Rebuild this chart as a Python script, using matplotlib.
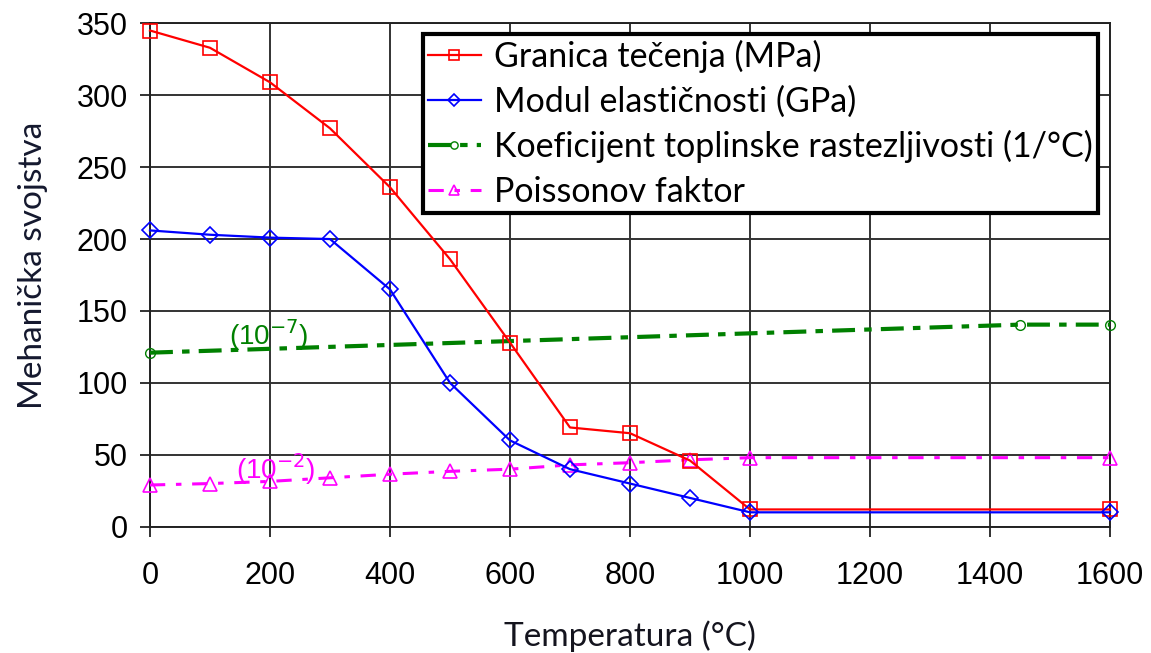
import numpy as np
import matplotlib
matplotlib.use('Agg')
import matplotlib.pyplot as plt

# temperature in degC
temp = [0, 100, 200, 300, 400, 500, 600, 700, 800, 900, 1000, 1600]
granica = [345, 333, 309, 277, 236, 186, 128, 69, 65, 46, 12, 12]        # MPa
modul = [206, 203, 201, 200, 165, 100, 60, 40, 30, 20, 10, 10]            # GPa
temp_koef = [0, 1450, 1600]
koef = [121, 140.5, 140.5]                                                # x 1e-7
poisson = [29, 30, 31.5, 34, 36.5, 38.5, 40, 43, 44.5, 46.5, 48, 48]      # x 1e-2

xticks = np.arange(0, 1601, 200)
yticks = np.arange(0, 351, 50)

plt.rcParams['font.family'] = ['Liberation Sans', 'DejaVu Sans']
label_font = ['Lato', 'DejaVu Sans']

fig = plt.figure(figsize=(11.51, 6.53), dpi=100)
ax = fig.add_axes([0.1303, 0.1934, 0.8341, 0.7709])

ax.plot(temp, granica, color='red', lw=1.6, marker='s', ms=10, mfc='none',
        mew=1.2, label='Granica tečenja (MPa)', clip_on=False, zorder=5)
ax.plot(temp, modul, color='blue', lw=1.6, marker='D', ms=8.5, mfc='none',
        mew=1.2, label='Modul elastičnosti (GPa)', clip_on=False, zorder=5)
ax.plot(temp_koef, koef, color='green', lw=3.0, marker='o', ms=7, mfc='none',
        mew=1.0, ls=(0, (5.5, 2.2, 1.8, 2.2)),
        label='Koeficijent toplinske rastezljivosti (1/°C)', clip_on=False, zorder=4)
ax.plot(temp, poisson, color='magenta', lw=2.2, marker='^', ms=10, mfc='none',
        mew=1.2, ls=(0, (5.0, 3.5, 1.8, 3.5)),
        label='Poissonov faktor', clip_on=False, zorder=4)

ax.text(198, 133, '(10$^{-7}$)', color='green', fontsize=20,
        ha='center', va='center', zorder=6)
ax.text(210, 40, '(10$^{-2}$)', color='magenta', fontsize=20,
        ha='center', va='center', zorder=6)

ax.set_xlim(0, 1600)
ax.set_ylim(0, 350)
ax.set_xticks(xticks)
ax.set_yticks(yticks)
ax.tick_params(labelsize=22, length=7, width=1.3, color='#222222')
ax.tick_params(axis='x', pad=18)
ax.tick_params(axis='y', pad=9)
ax.grid(True, color='#333333', lw=1.4)
for s in ax.spines.values():
    s.set_color('#222222')
    s.set_linewidth(1.4)

ax.set_xlabel('Temperatura (°C)', fontsize=24, family=label_font,
              color='#14141e', va='center')
ax.xaxis.set_label_coords(0.5, -0.218)
ax.set_ylabel('Mehanička svojstva', fontsize=24, family=label_font,
              color='#14182e', va='center')
ax.yaxis.set_label_coords(-0.122, 0.52)

leg = ax.legend(loc='upper right', bbox_to_anchor=(0.9875, 0.978),
                prop={'family': label_font, 'size': 24.5},
                fancybox=False, framealpha=1, edgecolor='black',
                handlelength=1.55, handletextpad=0.4, borderpad=0.15,
                labelspacing=0.37, borderaxespad=0, markerscale=0.75)
leg.get_frame().set_linewidth(3)
leg.set_zorder(10)

fig.savefig('out.png', dpi=100)
